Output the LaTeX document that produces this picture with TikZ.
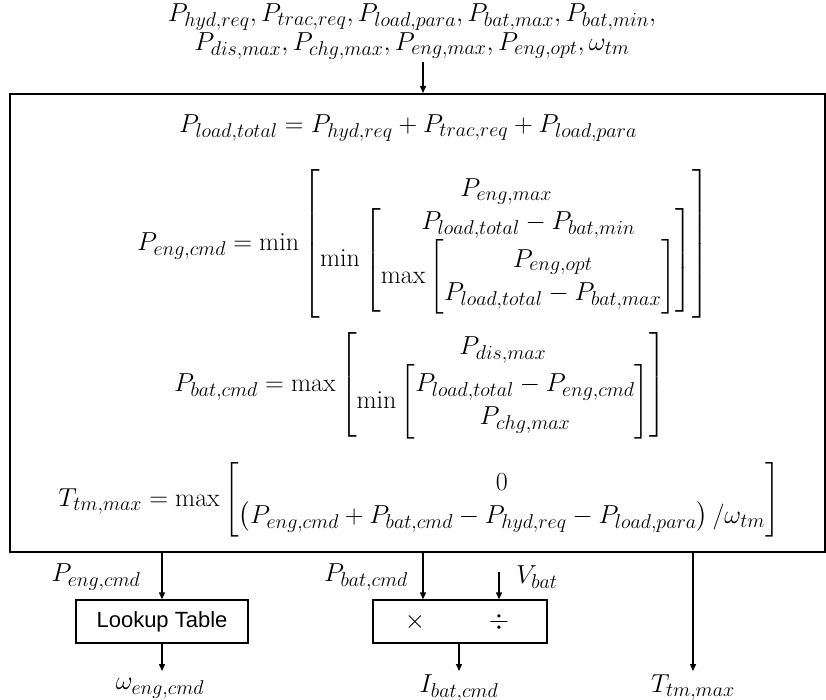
\RequirePackage{fix-cm}
\documentclass[tikz,border=0pt]{standalone}
\usepackage{amsmath}
\usepackage{fontspec}
\newfontfamily\lblfont{Liberation Sans}
\DeclareMathSizes{26}{26}{20}{15}
\usetikzlibrary{arrows.meta}
\tikzset{
  eq/.style={inner sep=0pt, font=\fontsize{26}{30}\selectfont\renewcommand{\arraystretch}{1.1}},
  lbl/.style={inner sep=0pt, font=\fontsize{26}{29}\selectfont},
  blockbox/.style={draw, line width=1.4pt, inner sep=0pt},
  mainbox/.style={draw, line width=2pt, inner sep=0pt},
  conn/.style={line width=1.4pt, -{Triangle[length=7pt,width=6pt]}},
}
\begin{document}
\begin{tikzpicture}[x=1pt,y=-1pt]
\useasboundingbox (0,0) rectangle (826,700);
% main box
\node[mainbox, minimum width=815pt, minimum height=458pt, anchor=north west] (main) at (9,93) {};
% top inputs
\node[lbl, align=center] (inputs) at (412,32) {$P_{hyd,req}, P_{trac,req}, P_{load,para}, P_{bat,max}, P_{bat,min},$\\ $P_{dis,max}, P_{chg,max}, P_{eng,max}, P_{eng,opt}, \omega_{tm}$};
\coordinate (inarrow) at (423,62);
\coordinate (intop) at (423,93);
\draw[conn] (inarrow) -- (intop);
% equations
\node[eq] (eqload) at (408,128) {$P_{load,total} = P_{hyd,req} + P_{trac,req} + P_{load,para}$};
\node[eq] (eqeng) at (423,244) {$P_{eng,cmd} = \min\left[\begin{matrix} P_{eng,max}\\ \min\left[\begin{matrix} P_{load,total} - P_{bat,min}\\ \max\left[\begin{matrix} P_{eng,opt}\\ P_{load,total} - P_{bat,max}\end{matrix}\right]\end{matrix}\right]\end{matrix}\right]$};
\node[eq] (eqbat) at (420,385) {$P_{bat,cmd} = \max\left[\begin{matrix} P_{dis,max}\\ \min\left[\begin{matrix} P_{load,total} - P_{eng,cmd}\\ P_{chg,max}\end{matrix}\right]\end{matrix}\right]$};
\node[eq] (eqtm) at (419,500) {$T_{tm,max} = \max\left[\begin{matrix} 0\\ \left(P_{eng,cmd} + P_{bat,cmd} - P_{hyd,req} - P_{load,para}\right)/\omega_{tm}\end{matrix}\right]$};
% outputs of main box
\coordinate (o1) at (162,551);
\coordinate (o2) at (423,551);
\coordinate (o3) at (693,551);
% lookup table
\node[blockbox, minimum width=172pt, minimum height=43pt] (lut) at (162,621.5) {\lblfont\fontsize{22}{26}\selectfont Lookup Table};
\node[lbl] (pengl) at (96,577) {$P_{eng,cmd}$};
\draw[conn] (o1) -- (lut.north);
\coordinate (lutout) at (162,671);
\draw[conn] (lut.south) -- (lutout);
\node[lbl] (wengl) at (160,688) {$\omega_{eng,cmd}$};
% multiply/divide
\node[blockbox, minimum width=174pt, minimum height=43pt] (md) at (460,621.5) {};
\node[lbl] (mult) at (415,622) {$\times$};
\node[lbl] (divd) at (499,622) {$\div$};
\node[lbl] (pbatl) at (366,577) {$P_{bat,cmd}$};
\draw[conn] (o2) -- (o2 |- md.north);
\coordinate (vbatin) at (499,572);
\draw[conn] (vbatin) -- (vbatin |- md.north);
\node[lbl] (vbatl) at (537,577) {$V_{bat}$};
\coordinate (mdout) at (459,671);
\draw[conn] (mdout |- md.south) -- (mdout);
\node[lbl] (ibatl) at (459,688) {$I_{bat,cmd}$};
% torque
\coordinate (tmout) at (693,671);
\draw[conn] (o3) -- (tmout);
\node[lbl] (ttml) at (693,688) {$T_{tm,max}$};
\end{tikzpicture}
\end{document}
